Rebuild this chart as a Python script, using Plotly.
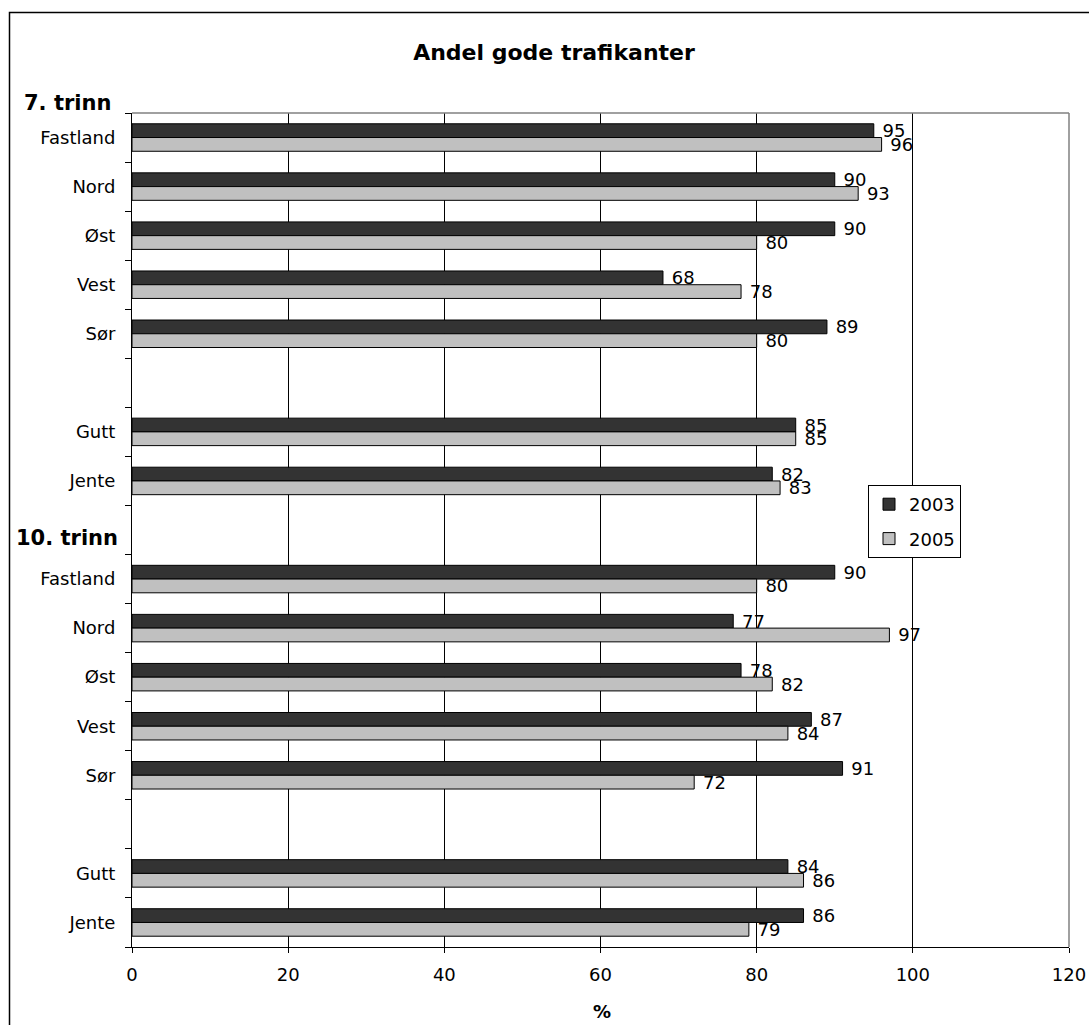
import plotly.graph_objects as go

# Row layout, top to bottom ("" marks an empty spacer row)
rows = ["Fastland", "Nord", "Øst", "Vest", "Sør", "", "Gutt", "Jente", "",
        "Fastland", "Nord", "Øst", "Vest", "Sør", "", "Gutt", "Jente"]

# Share of good road users (%), 7th grade then 10th grade
values_2003 = [95, 90, 90, 68, 89, None, 85, 82, None,
               90, 77, 78, 87, 91, None, 84, 86]
values_2005 = [96, 93, 80, 78, 80, None, 85, 83, None,
               80, 97, 82, 84, 72, None, 86, 79]

series_names = ["2003", "2005"]
x_ticks = [0, 20, 40, 60, 80, 100, 120]

positions = list(range(len(rows)))
label_pos = [p for p, r in zip(positions, rows) if r]
label_txt = [r for r in rows if r]

FONT = "DejaVu Sans"
W, H = 1089, 1025
L, R, T, B = 132, 20, 113, 78
pw, ph = W - L - R, H - T - B


def px_to_paper(px, py):
    return (px - L) / pw, (H - B - py) / ph


fig = go.Figure()
for name, vals, col in zip(series_names, [values_2003, values_2005], ["#333333", "#c0c0c0"]):
    ys = [p for p, v in zip(positions, vals) if v is not None]
    xs = [v for v in vals if v is not None]
    fig.add_trace(go.Bar(
        name=name, x=xs, y=ys, orientation="h",
        marker=dict(color=col, line=dict(color="black", width=1)),
        text=[str(v) for v in xs], texttemplate=" %{text}",
        textposition="outside", constraintext="none", cliponaxis=False,
        outsidetextfont=dict(family=FONT, size=18, color="black"),
        legendgroup=name,
    ))

fig.update_layout(
    width=W, height=H,
    margin=dict(l=L, r=R, t=T, b=B, autoexpand=False),
    paper_bgcolor="white", plot_bgcolor="white",
    barmode="group", bargap=0.44, bargroupgap=0,
    font=dict(family=FONT, size=18, color="black"),
    title=dict(text="<b>Andel gode trafikanter</b>", x=554 / W, xanchor="center",
               y=1 - 52 / H, yanchor="middle",
               font=dict(family=FONT, size=22, color="black")),
    showlegend=True,
    legend=dict(x=px_to_paper(868, 0)[0], y=px_to_paper(0, 485)[1],
                xanchor="left", yanchor="top",
                bgcolor="white", bordercolor="black", borderwidth=1,
                font=dict(family=FONT, size=18, color="black"),
                traceorder="grouped", tracegroupgap=8),
)

fig.update_xaxes(
    automargin=False,
    range=[0, 120], tickvals=x_ticks, ticks="outside", ticklen=5,
    tickcolor="black", showline=True, linecolor="black", linewidth=1,
    showgrid=True, gridcolor="black", gridwidth=1, zeroline=False,
    ticklabelstandoff=6,
    tickfont=dict(family=FONT, size=18, color="black"),
)
fig.update_yaxes(
    automargin=False,
    range=[len(rows) - 0.5, -0.5], tickvals=label_pos, ticktext=label_txt,
    ticks="", showline=True, linecolor="black", linewidth=1,
    showgrid=False, zeroline=False, ticklabelstandoff=12,
    tickfont=dict(family=FONT, size=18, color="black"),
    minor=dict(tickvals=[p - 0.5 for p in positions] + [len(rows) - 0.5],
               ticks="outside", ticklen=6, tickcolor="black", showgrid=False),
)

# Grey top and right edges of the plot area
fig.add_shape(type="line", xref="paper", yref="paper", x0=0, x1=1, y0=1, y1=1,
              line=dict(color="#808080", width=1.5), layer="above")
fig.add_shape(type="line", xref="paper", yref="paper", x0=1, x1=1, y0=0, y1=1,
              line=dict(color="#808080", width=1.5), layer="above")

# Outer chart frame
fx0, fy0 = px_to_paper(9.5, 12.5)
fx1, fy1 = px_to_paper(W + 10, H + 10)
fig.add_shape(type="rect", xref="paper", yref="paper", x0=fx0, x1=fx1, y0=fy1, y1=fy0,
              line=dict(color="black", width=1.5), layer="above")

# Group headings and axis unit
gx, gy = px_to_paper(113, 103)
fig.add_annotation(text="<b>7. trinn</b>", xref="paper", yref="paper", x=gx, y=gy,
                   xanchor="right", yanchor="middle", showarrow=False,
                   font=dict(family=FONT, size=21, color="black"))
gx2, _ = px_to_paper(120, 0)
fig.add_annotation(text="<b>10. trinn</b>", xref="paper", yref="y", x=gx2, y=8, yshift=-8,
                   xanchor="right", yanchor="middle", showarrow=False,
                   font=dict(family=FONT, size=21, color="black"))
ux, uy = px_to_paper(601.5, 1011.5)
fig.add_annotation(text="<b>%</b>", xref="paper", yref="paper", x=ux, y=uy,
                   xanchor="center", yanchor="middle", showarrow=False,
                   font=dict(family=FONT, size=18, color="black"))

fig.write_html("out.html")
